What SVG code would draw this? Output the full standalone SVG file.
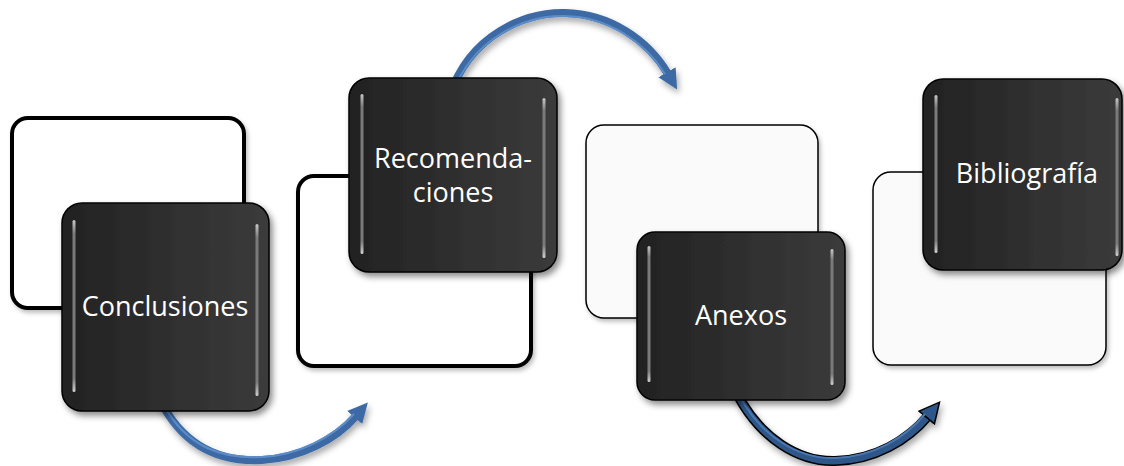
<svg xmlns="http://www.w3.org/2000/svg" width="1124" height="466" viewBox="0 0 1124 466">
<style>
.dark{stroke:#000;stroke-width:1.5;fill:url(#dg);filter:url(#sh)}
.wthick{fill:#fff;stroke:#000;stroke-width:4;filter:url(#sh2)}
.wthin{fill:#fafafa;stroke:#000;stroke-width:1.5;filter:url(#sh2)}
.hl{fill:url(#hg)}
.lbl{font-family:"Open Sans","Noto Sans",sans-serif;font-size:27px;fill:#fff;text-anchor:middle}
.a1o{fill:none;stroke:#3d6aa5;stroke-width:8}
.a1i{fill:none;stroke:#5d8dc8;stroke-width:2}
.a3o{fill:none;stroke:#000;stroke-width:10}
.a3m{fill:none;stroke:#2d5688;stroke-width:7}
.a3i{fill:none;stroke:#4a78b0;stroke-width:2}
</style>
<defs>
<linearGradient id="dg" x1="0" y1="0" x2="1" y2="0">
<stop offset="0" stop-color="#222"/>
<stop offset="1" stop-color="#3b3b3b"/>
</linearGradient>
<linearGradient id="hg" x1="0" y1="0" x2="0" y2="1">
<stop offset="0" stop-color="#c8c8c8"/>
<stop offset="0.08" stop-color="#7a7a7a"/>
<stop offset="0.92" stop-color="#7a7a7a"/>
<stop offset="1" stop-color="#d0d0d0"/>
</linearGradient>
<filter id="sh" x="-10%" y="-10%" width="130%" height="130%">
<feDropShadow dx="3" dy="4" stdDeviation="3" flood-color="#000" flood-opacity="0.45"/>
</filter>
<filter id="sh2" x="-10%" y="-10%" width="130%" height="130%">
<feDropShadow dx="2" dy="3" stdDeviation="2" flood-color="#000" flood-opacity="0.25"/>
</filter>
<filter id="ash" x="-20%" y="-20%" width="140%" height="150%">
<feDropShadow dx="2" dy="4" stdDeviation="3" flood-color="#000" flood-opacity="0.35"/>
</filter>
<marker id="h1" markerUnits="userSpaceOnUse" markerWidth="26" markerHeight="26" viewBox="0 0 26 26" refX="2" refY="13" orient="auto">
<path d="M0,3 L20,13 L0,23 Z" fill="#3d6aa5"/>
</marker>
<marker id="h3" markerUnits="userSpaceOnUse" markerWidth="28" markerHeight="28" viewBox="0 0 28 28" refX="3" refY="14" orient="auto">
<path d="M1,4 L21,14 L1,24 Z" fill="#2d5688" stroke="#000" stroke-width="1.5"/>
</marker>
</defs>

<g id="connectors">
<g filter="url(#ash)">
<path class="a1o" d="M160,400 C185,450 225,462 262,460 C300,458 335,440 356,416" marker-end="url(#h1)"/>
<path class="a1i" d="M162,402 C187,450 226,459 262,457 C298,455 332,438 354,414"/>
</g>
<g filter="url(#ash)">
<path class="a1o" d="M450,95 C470,35 525,12 565,13 C610,14 648,40 668,74" marker-end="url(#h1)"/>
<path class="a1i" d="M452,95 C472,38 525,15 565,16 C608,17 645,42 665,74"/>
</g>
<g filter="url(#ash)">
<path class="a3o" d="M735,390 C760,440 800,462 835,461 C875,460 908,440 928,416"/>
<path class="a3m" d="M735,390 C760,440 800,462 835,461 C875,460 908,440 928,416" marker-end="url(#h3)"/>
<path class="a3i" d="M737,392 C762,439 800,459 835,458 C873,457 905,438 925,414"/>
</g>
</g>

<g id="node-conclusiones">
<rect class="wthick" x="12" y="118" width="232" height="190" rx="16"/>
<rect class="dark" x="62" y="203" width="207" height="208" rx="20"/>
<rect class="hl" x="72.5" y="220" width="3" height="172" rx="1.5"/>
<rect class="hl" x="255.5" y="224" width="3" height="172" rx="1.5"/>
<text class="lbl" x="165" y="316">Conclusiones</text>
</g>

<g id="node-recomendaciones">
<rect class="wthick" x="298" y="176" width="233" height="190" rx="16"/>
<rect class="dark" x="349" y="78" width="208" height="194" rx="20"/>
<rect class="hl" x="360.5" y="94" width="3" height="160" rx="1.5"/>
<rect class="hl" x="542.5" y="98" width="3" height="160" rx="1.5"/>
<text class="lbl" x="453" y="168">Recomenda-</text>
<text class="lbl" x="453" y="202">ciones</text>
</g>

<g id="node-anexos">
<rect class="wthin" x="586" y="125" width="232" height="193" rx="18"/>
<rect class="dark" x="637" y="232" width="208" height="168" rx="18"/>
<rect class="hl" x="647.5" y="246" width="3" height="136" rx="1.5"/>
<rect class="hl" x="830.5" y="249" width="3" height="136" rx="1.5"/>
<text class="lbl" x="741" y="325">Anexos</text>
</g>

<g id="node-bibliografia">
<rect class="wthin" x="873" y="172" width="233" height="193" rx="18"/>
<rect class="dark" x="923" y="79" width="199" height="191" rx="20"/>
<rect class="hl" x="934.5" y="95" width="3" height="158" rx="1.5"/>
<rect class="hl" x="1115.5" y="98" width="3" height="158" rx="1.5"/>
<text class="lbl" x="1027" y="183">Bibliografía</text>
</g>
</svg>
